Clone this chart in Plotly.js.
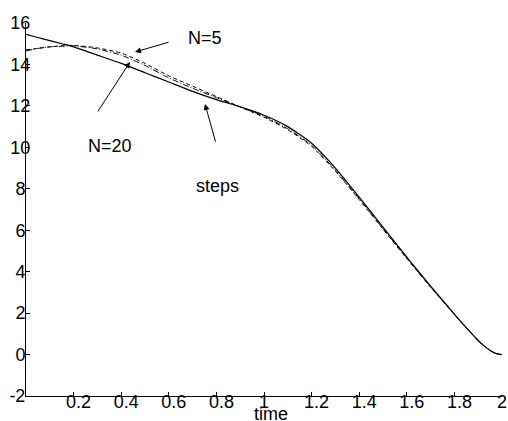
<!DOCTYPE html>
<html>
<head>
<meta charset="utf-8">
<script src="https://cdn.plot.ly/plotly-3.0.1.min.js"></script>
<style>html,body{margin:0;padding:0;background:#fff;}#chart{width:508px;height:421px;}</style>
</head>
<body>
<div id="chart"></div>
<script>
const time = [0,0.05,0.1,0.15,0.2,0.3,0.4,0.5,0.6,0.7,0.8,0.9,1.0,1.1,1.2,1.3,1.4,1.5,1.6,1.7,1.8,1.85,1.9,1.925,1.95,1.975,2.0];
const steps = [15.45,15.3,15.15,15.0,14.85,14.45,14.05,13.6,13.15,12.7,12.3,11.95,11.55,11.0,10.2,9.0,7.6,6.15,4.7,3.3,1.95,1.3,0.68,0.42,0.2,0.05,0.0];
const n5 = [14.7,14.78,14.85,14.9,14.92,14.8,14.55,14.05,13.45,12.95,12.45,11.95,11.45,10.85,10.05,8.85,7.48,6.05,4.63,3.25,1.93,1.28,0.67,0.42,0.2,0.05,0.0];
const n20 = [14.65,14.77,14.85,14.88,14.9,14.75,14.45,13.95,13.35,12.85,12.4,11.95,11.5,10.9,10.1,8.9,7.52,6.08,4.66,3.27,1.94,1.29,0.68,0.42,0.2,0.05,0.0];

const xTickVals = [0.2,0.4,0.6,0.8,1,1.2,1.4,1.6,1.8,2];
const xTickText = ['\u00a0\u00a00.2','\u00a0\u00a00.4','\u00a0\u00a00.6','\u00a0\u00a00.8','1','\u00a0\u00a01.2','\u00a0\u00a01.4','\u00a0\u00a01.6','\u00a0\u00a01.8','2'];
const yTickVals = [-2,0,2,4,6,8,10,12,14,16];
const yTickText = ['-2\u00a0','0\u00a0','2\u00a0','4\u00a0','6\u00a0','8\u00a0','10','12','14','16'];

const labels = [
  {text:'N=5', x:0.752, y:15.29},
  {text:'N=20', x:0.351, y:10.08},
  {text:'steps', x:0.803, y:8.13}
];
const arrows = [
  {x:0.458, y:14.6, ax:0.605, ay:15.09},
  {x:0.437, y:14.12, ax:0.298, ay:11.66},
  {x:0.752, y:12.09, ax:0.798, ay:10.21}
];
const xTitle = {text:'time', x:1.03, y:-0.047};

const font = {family:'Liberation Sans, Arial, sans-serif', size:18, color:'#000'};

const traces = [
  {x:time, y:steps, mode:'lines', line:{color:'#000', width:1.2, shape:'spline', smoothing:0.5}, name:'steps'},
  {x:time, y:n5, mode:'lines', line:{color:'#000', width:1, dash:'4px,3px', shape:'spline', smoothing:0.5}, name:'N=5'},
  {x:time, y:n20, mode:'lines', line:{color:'#000', width:1, dash:'6px,2px,1px,2px', shape:'spline', smoothing:0.5}, name:'N=20'}
];

const annotations = labels.map(l => ({text:l.text, x:l.x, y:l.y, xref:'x', yref:'y', showarrow:false, xanchor:'center', yanchor:'middle', font:font}))
  .concat(arrows.map(a => ({text:'', x:a.x, y:a.y, ax:a.ax, ay:a.ay, axref:'x', ayref:'y', xref:'x', yref:'y', showarrow:true, arrowhead:2, arrowsize:1.2, arrowwidth:1, arrowcolor:'#000'})))
  .concat([{text:xTitle.text, x:xTitle.x, y:xTitle.y, xref:'x', yref:'paper', showarrow:false, xanchor:'center', yanchor:'middle', borderpad:0, font:font}]);

const layout = {
  width:508, height:421,
  margin:{l:26, r:6, t:23, b:25.3},
  paper_bgcolor:'#fff', plot_bgcolor:'#fff',
  showlegend:false,
  font:font,
  xaxis:{range:[0,2], tickvals:xTickVals, ticktext:xTickText, ticks:'inside', ticklen:4, tickcolor:'#000', showline:true, linecolor:'#000', linewidth:1, showgrid:false, zeroline:false, tickfont:font, ticklabelstandoff:-11, automargin:false},
  yaxis:{range:[-2,16], tickvals:yTickVals, ticktext:yTickText, ticks:'inside', ticklen:4, tickcolor:'#000', showline:true, linecolor:'#000', linewidth:1, showgrid:false, zeroline:false, tickfont:font, ticklabelstandoff:-9, automargin:false},
  annotations:annotations
};

Plotly.newPlot('chart', traces, layout, {displayModeBar:false, staticPlot:true});
</script>
</body>
</html>
